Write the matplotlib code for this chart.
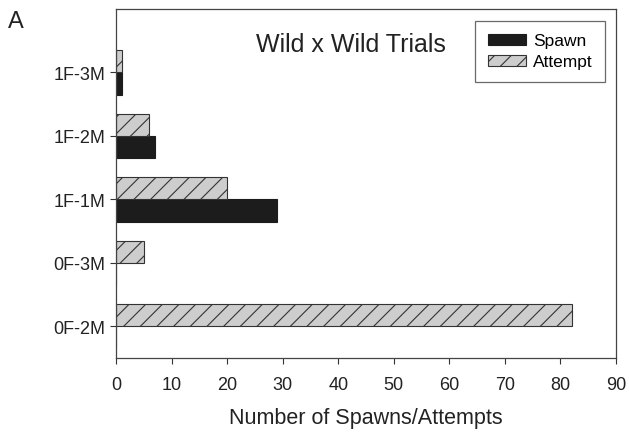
import matplotlib
matplotlib.use("Agg")
import matplotlib.pyplot as plt
import numpy as np

plt.rcParams['font.family'] = ['Liberation Sans', 'DejaVu Sans']
plt.rcParams['hatch.linewidth'] = 0.8

categories = ["0F-2M", "0F-3M", "1F-1M", "1F-2M", "1F-3M"]
spawn = [0, 0, 29, 7, 1]
attempt = [82, 5, 20, 6, 1]
xticks = [0, 10, 20, 30, 40, 50, 60, 70, 80, 90]

fig = plt.figure(figsize=(6.29, 4.35), dpi=100)
ax = fig.add_axes([0.1844, 0.1747, 0.7949, 0.8023])

y = np.arange(len(categories))
h = 0.35
ax.barh(y - h / 2, spawn, height=h, color="#1c1c1c", edgecolor="#1c1c1c",
        linewidth=0.8, label="Spawn")
ax.barh(y + h / 2, attempt, height=h, color="#cdcdcd", edgecolor="#333333",
        hatch="//", linewidth=0.8, label="Attempt")

ax.set_xlim(0, 90)
ax.set_ylim(-0.5, 5.0)
ax.set_xticks(xticks)
ax.set_xticklabels([str(t) for t in xticks])
ax.set_yticks(y)
ax.set_yticklabels(categories)
ax.tick_params(axis='both', labelsize=13, colors="#333333", labelcolor="#222222",
               length=4, width=0.8)
ax.tick_params(axis='x', pad=9)
for s in ax.spines.values():
    s.set_color("#444444")
    s.set_linewidth(0.9)

ax.set_xlabel("Number of Spawns/Attempts", fontsize=15.5, color="#222222", labelpad=10)
ax.text(0.47, 0.9, "Wild x Wild Trials", transform=ax.transAxes,
        ha="center", va="center", fontsize=18, color="#222222")
fig.text(0.012, 0.95, "A", fontsize=17, color="#222222", va="center")

leg = ax.legend(loc="upper right", bbox_to_anchor=(0.978, 0.966), fontsize=12.5,
                frameon=True, fancybox=False, edgecolor="#444444",
                handlelength=2.2, handleheight=0.6, borderpad=0.72,
                labelspacing=0.35, handletextpad=0.4, borderaxespad=0)
leg.get_frame().set_linewidth(0.9)

fig.savefig("out.png", dpi=100)
